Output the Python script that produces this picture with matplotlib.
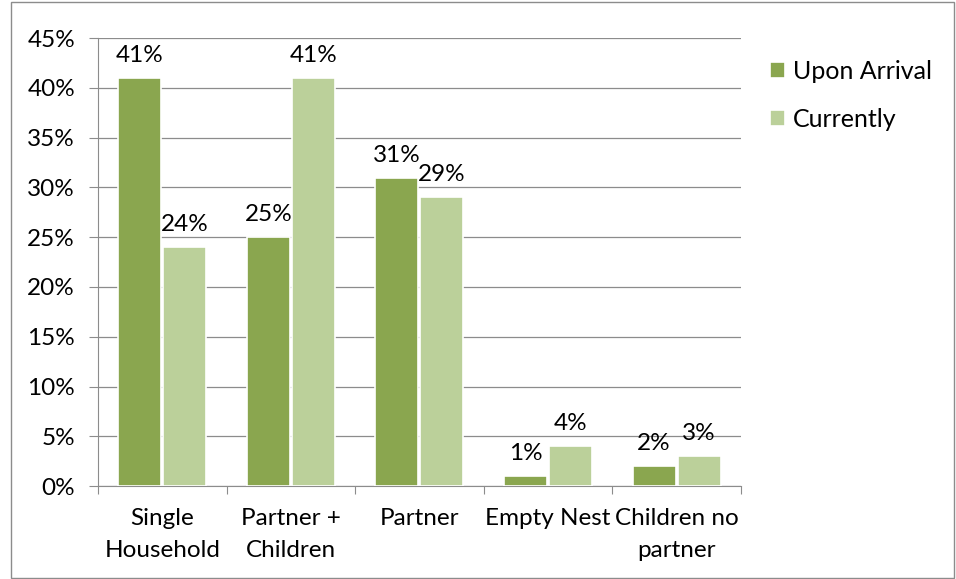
import numpy as np
import matplotlib.pyplot as plt
from matplotlib.patches import Rectangle

plt.rcParams['font.family'] = ['Lato', 'DejaVu Sans']

# Datos
categorias = ['Single\nHousehold', 'Partner +\nChildren', 'Partner', 'Empty Nest', 'Children no\npartner']
llegada = [41, 25, 31, 1, 2]
actual = [24, 41, 29, 4, 3]
series = ['Upon Arrival', 'Currently']
colores = ['#8AA64F', '#BBD09A']

fs = 17.5

fig = plt.figure(figsize=(9.56, 5.79), dpi=100)
ax = fig.add_axes([0.1025, 0.1606, 0.6725, 0.7734])

# Marco exterior
fig.patches.append(Rectangle((0.011, 0.002), 0.987, 0.994, transform=fig.transFigure,
                             fill=False, edgecolor='#8c8c8c', linewidth=1))

x = np.arange(len(categorias))
ancho = 0.335
off = 0.175
b1 = ax.bar(x - off, llegada, ancho, color=colores[0], edgecolor='white', linewidth=1.2,
            label=series[0], zorder=3)
b2 = ax.bar(x + off, actual, ancho, color=colores[1], edgecolor='white', linewidth=1.2,
            label=series[1], zorder=3)

for barras, vals in [(b1, llegada), (b2, actual)]:
    for b, v in zip(barras, vals):
        ax.text(b.get_x() + b.get_width() / 2, v + 1.2, f'{v}%', ha='center', va='bottom',
                fontsize=fs, zorder=4)

ax.set_xlim(-0.5, len(categorias) - 0.5)
ax.set_ylim(0, 45)
ax.set_yticks(range(0, 46, 5))
ax.set_yticklabels([f'{t}%' for t in range(0, 46, 5)], fontsize=fs)
ax.yaxis.grid(True, color='#8c8c8c', linewidth=0.9, zorder=0)

ax.set_xticks(np.arange(-0.5, len(categorias), 1.0))
ax.set_xticklabels([])
ax.set_xticks(x, minor=True)
ax.set_xticklabels(categorias, minor=True, fontsize=fs, linespacing=1.65)
ax.tick_params(axis='x', which='minor', length=0, pad=16)
ax.tick_params(axis='x', which='major', length=6, color='#8c8c8c')
ax.tick_params(axis='y', length=6.5, color='#8c8c8c', pad=10)

for lado in ['top', 'right']:
    ax.spines[lado].set_visible(False)
for lado in ['left', 'bottom']:
    ax.spines[lado].set_color('#8c8c8c')

fig.legend(loc='upper left', bbox_to_anchor=(0.782, 0.935), frameon=False, fontsize=18,
           handlelength=0.6, handleheight=0.6, labelspacing=1.0, handletextpad=0.3)

fig.savefig('out.png', dpi=100)
